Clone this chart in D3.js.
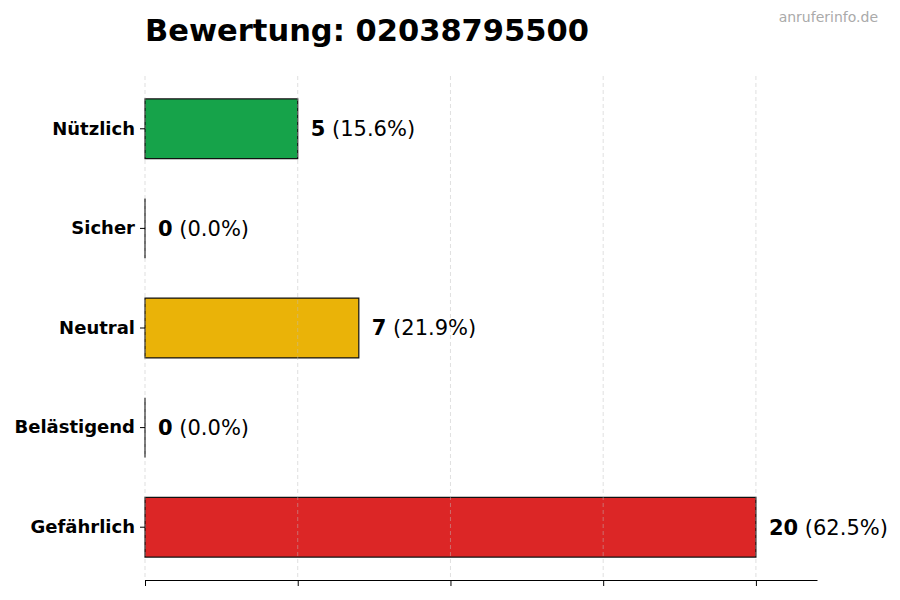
<!DOCTYPE html>
<html>
<head>
<meta charset="utf-8">
<script src="https://cdn.jsdelivr.net/npm/d3@7/dist/d3.min.js"></script>
<style>
  html, body { margin: 0; padding: 0; background: #fff; }
  svg { display: block; font-family: "DejaVu Sans", sans-serif; }
</style>
</head>
<body>
<div id="chart"></div>
<script>
'use strict';

/* ── Data ── */
const categories = ['Nützlich', 'Sicher', 'Neutral', 'Belästigend', 'Gefährlich'];
const counts = [5, 0, 7, 0, 20];
const barColors = ['#16a34a', '#9ca3af', '#eab308', '#f97316', '#dc2626'];
const xTicks = [0, 5, 10, 15, 20];
const title = 'Bewertung: 02038795500';
const watermark = 'anruferinfo.de';

const W = 900, H = 600;
const m = { left: 145, right: 83, top: 76, bottom: 20 };
const total = d3.sum(counts);

const svg = d3.select('#chart').append('svg')
  .attr('width', W).attr('height', H);

const x = d3.scaleLinear().domain([0, 22]).range([m.left, W - m.right]);
const y = d3.scaleBand().domain(categories)
  .range([m.top, H - m.bottom])
  .paddingInner(0.4).paddingOuter(0.23);

/* ── Bars ── */
svg.append('g').selectAll('path')
  .data(categories)
  .join('path')
  .attr('d', (c, i) => {
    const p = d3.path();
    p.rect(x(0), y(c), x(counts[i]) - x(0), y.bandwidth());
    return p.toString();
  })
  .attr('fill', (c, i) => barColors[i])
  .attr('stroke', '#111')
  .attr('stroke-width', 1.2);

/* ── Grid (on top, light) ── */
svg.append('g').selectAll('line')
  .data(xTicks)
  .join('line')
  .attr('x1', d => x(d)).attr('x2', d => x(d))
  .attr('y1', m.top).attr('y2', H - m.bottom)
  .attr('stroke', '#bbb')
  .attr('stroke-opacity', 0.6)
  .attr('stroke-dasharray', '4,3')
  .attr('stroke-width', 0.8);

/* ── Axes ── */
const xAxis = svg.append('g')
  .attr('transform', `translate(0,${H - m.bottom})`)
  .call(d3.axisBottom(x).tickValues(xTicks).tickFormat('').tickSize(6).tickSizeOuter(0));
xAxis.select('.domain').attr('stroke', '#000').attr('stroke-width', 1);
xAxis.selectAll('.tick line').attr('stroke', '#000');

const yAxis = svg.append('g')
  .attr('transform', `translate(${m.left},0)`)
  .call(d3.axisLeft(y).tickSize(5).tickPadding(5));
yAxis.select('.domain').remove();
yAxis.selectAll('.tick line').attr('stroke', '#000');
yAxis.selectAll('.tick text')
  .attr('font-family', '"DejaVu Sans", sans-serif')
  .attr('font-size', 18)
  .attr('font-weight', 'bold')
  .attr('fill', '#000');

/* ── Value labels ── */
const lbl = svg.append('g').selectAll('text')
  .data(categories)
  .join('text')
  .attr('x', (c, i) => x(counts[i]) + 13)
  .attr('y', c => y(c) + y.bandwidth() / 2)
  .attr('dy', '0.35em')
  .attr('font-size', 21)
  .attr('fill', '#000');
lbl.append('tspan').attr('font-weight', 'bold').text((c, i) => counts[i]);
lbl.append('tspan').text((c, i) => ` (${(counts[i] / total * 100).toFixed(1)}%)`);

/* ── Title & watermark ── */
svg.append('text')
  .attr('x', m.left).attr('y', 41)
  .attr('font-size', 30.5).attr('font-weight', 'bold')
  .attr('fill', '#000')
  .text(title);

svg.append('text')
  .attr('x', 878).attr('y', 22)
  .attr('text-anchor', 'end')
  .attr('font-size', 14)
  .attr('fill', '#aaa')
  .text(watermark);
</script>
</body>
</html>
